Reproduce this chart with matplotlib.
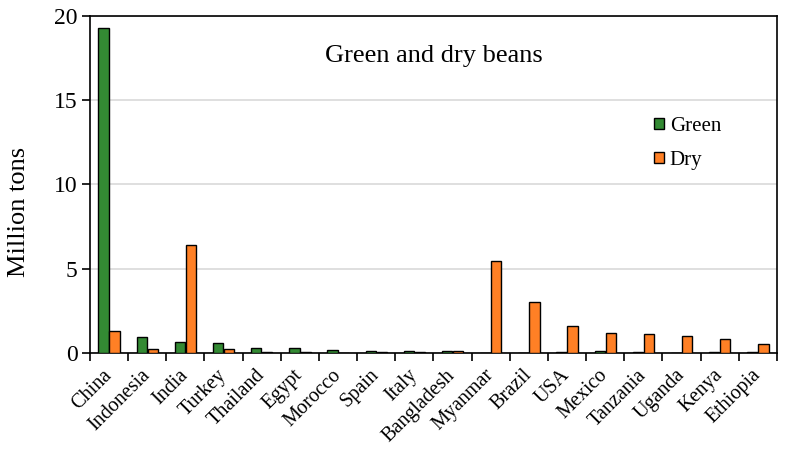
import numpy as np
import matplotlib
matplotlib.use('Agg')
from matplotlib import pyplot as plt

countries = ['China', 'Indonesia', 'India', 'Turkey', 'Thailand', 'Egypt',
             'Morocco', 'Spain', 'Italy', 'Bangladesh', 'Myanmar', 'Brazil',
             'USA', 'Mexico', 'Tanzania', 'Uganda', 'Kenya', 'Ethiopia']
green = [19.29, 0.93, 0.67, 0.61, 0.28, 0.28, 0.18, 0.12, 0.12, 0.14,
         0.0, 0.0, 0.03, 0.1, 0.03, 0.0, 0.03, 0.03]
dry = [1.3, 0.22, 6.42, 0.22, 0.08, 0.08, 0.0, 0.03, 0.03, 0.1,
       5.47, 3.04, 1.62, 1.18, 1.12, 1.02, 0.85, 0.53]

plt.rcParams['font.family'] = ['Liberation Serif', 'DejaVu Serif']

fig = plt.figure(figsize=(7.85, 4.57), dpi=100)
ax = fig.add_axes([0.1146, 0.2276, 0.8752, 0.7374])

x = np.arange(len(countries))
w = 0.27
ax.bar(x - w / 2 - 0.01, green, w, color='#338a33', edgecolor='black',
       linewidth=1.0, label='Green', zorder=3)
ax.bar(x + w / 2 + 0.01, dry, w, color='#ff8025', edgecolor='black',
       linewidth=1.0, label='Dry', zorder=3)

ax.set_xlim(-0.5, len(countries) - 0.5)
ax.set_ylim(0, 20)
ax.set_yticks([0, 5, 10, 15, 20])
ax.yaxis.grid(True, color='#d9d9d9', linewidth=1.2, zorder=0)
ax.set_axisbelow(True)

ax.set_xticks(x)
ax.set_xticklabels(countries, rotation=45, ha='right', va='center',
                   rotation_mode='anchor', fontsize=14.5)
ax.tick_params(axis='x', which='major', length=0, pad=14)
ax.set_xticks(np.arange(-0.5, len(countries), 1.0), minor=True)
ax.tick_params(axis='x', which='minor', length=6, width=1.2, direction='out')
ax.tick_params(axis='y', length=6, width=1.2, direction='out', labelsize=17,
               pad=3)

for s in ax.spines.values():
    s.set_linewidth(1.2)

ax.set_ylabel('Million tons', fontsize=19)
ax.yaxis.set_label_coords(-0.087, 0.42)
ax.text(0.5, 0.88, 'Green and dry beans', transform=ax.transAxes,
        ha='center', va='center', fontsize=19)

ax.legend(loc='upper left', bbox_to_anchor=(0.794, 0.755), frameon=False,
          fontsize=15, handlelength=0.45, handleheight=0.45,
          handletextpad=0.3, labelspacing=0.7)

fig.savefig('out.png', dpi=100)
